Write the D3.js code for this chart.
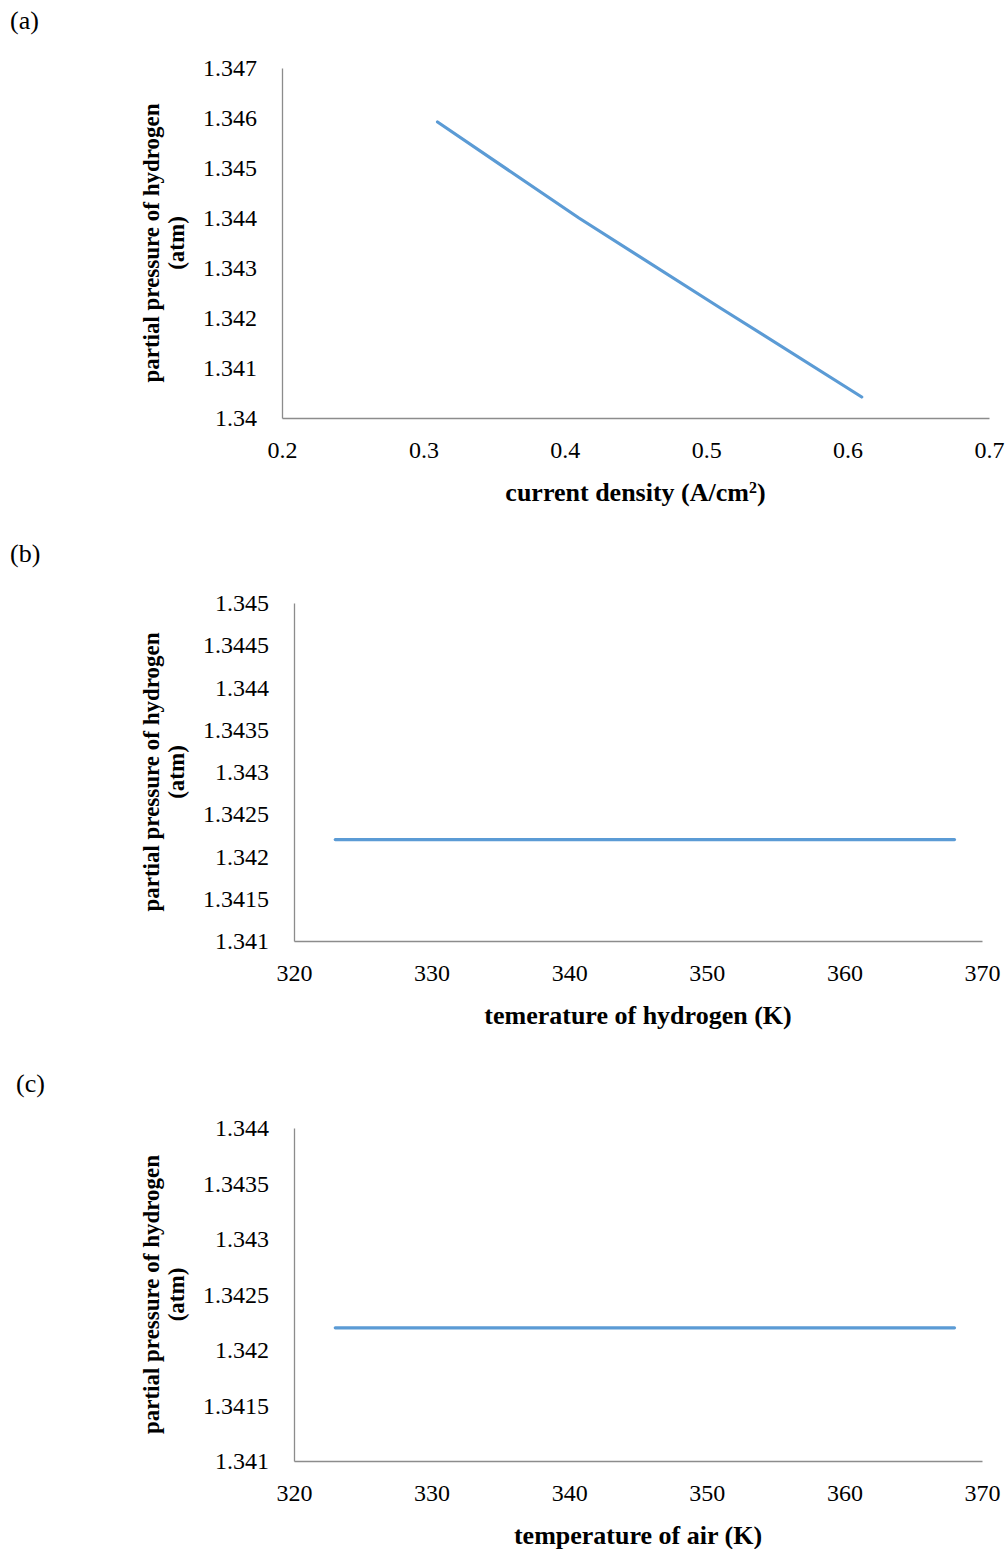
<!DOCTYPE html>
<html>
<head>
<meta charset="utf-8">
<script src="https://cdn.jsdelivr.net/npm/d3@7"></script>
<style>
  body { margin: 0; background: #fff; }
  svg text { font-family: "Liberation Serif", "DejaVu Serif", serif; fill: #000; }
</style>
</head>
<body>
<div id="chart"></div>
<script>
// values
const densityX = [0.31, 0.41, 0.51, 0.61];
const densityP = [1.34592, 1.34400, 1.34220, 1.34042];
const densityTicksX = [0.2, 0.3, 0.4, 0.5, 0.6, 0.7];
const densityTicksY = [1.34, 1.341, 1.342, 1.343, 1.344, 1.345, 1.346, 1.347];

const h2TempX = [323, 368];
const h2TempP = [1.3422, 1.3422];
const tempTicksX = [320, 330, 340, 350, 360, 370];
const h2TicksY = [1.341, 1.3415, 1.342, 1.3425, 1.343, 1.3435, 1.344, 1.3445, 1.345];

const airTempX = [323, 368];
const airTempP = [1.3422, 1.3422];
const airTicksY = [1.341, 1.3415, 1.342, 1.3425, 1.343, 1.3435, 1.344];

const svg = d3.select("#chart").append("svg")
    .attr("width", 1007)
    .attr("height", 1549);

function drawPanel(p) {
    const x = d3.scaleLinear()
        .domain(d3.extent(p.ticksX))
        .range([p.left, p.right]);

    const y = d3.scaleLinear()
        .domain(d3.extent(p.ticksY))
        .range([p.bottom, p.top]);

    // panel letter
    svg.append("text")
        .attr("x", p.tagX)
        .attr("y", p.tagY)
        .attr("font-size", 26)
        .text(p.tag);

    const xAxis = svg.append("g")
        .attr("transform", `translate(0,${p.bottom})`)
        .call(d3.axisBottom(x).tickValues(p.ticksX).tickSize(0).tickPadding(23)
            .tickFormat(d3.format("")));
    xAxis.select(".domain").attr("stroke", "#8c8c8c").attr("stroke-width", 1.3);
    xAxis.selectAll(".tick text").attr("font-size", 24).attr("font-family", "Liberation Serif");

    const yAxis = svg.append("g")
        .attr("transform", `translate(${p.left},0)`)
        .call(d3.axisLeft(y).tickValues(p.ticksY).tickSize(0).tickPadding(25)
            .tickFormat(d3.format("")));
    yAxis.select(".domain").attr("stroke", "#8c8c8c").attr("stroke-width", 1.3);
    yAxis.selectAll(".tick text").attr("font-size", 24).attr("font-family", "Liberation Serif");

    const line = d3.line()
        .x(d => x(d[0]))
        .y(d => y(d[1]));

    svg.append("path")
        .datum(d3.zip(p.xs, p.ys))
        .attr("fill", "none")
        .attr("stroke", "#5b9bd5")
        .attr("stroke-width", 3.2)
        .attr("stroke-linecap", "round")
        .attr("d", line);

    // x axis label
    svg.append("text")
        .attr("text-anchor", "middle")
        .attr("x", (p.left + p.right) / 2)
        .attr("y", p.bottom + 83)
        .attr("font-size", 26)
        .attr("font-weight", "bold")
        .html(p.xLabel);

    // y axis label, two lines
    const midY = (p.top + p.bottom) / 2;
    const yl = svg.append("text")
        .attr("text-anchor", "middle")
        .attr("transform", `translate(159,${midY}) rotate(-90)`)
        .attr("font-size", 23)
        .attr("font-weight", "bold");
    yl.append("tspan").attr("x", 0).attr("dy", 0).text("partial pressure of hydrogen");
    yl.append("tspan").attr("x", 0).attr("dy", 25).text("(atm)");
}

drawPanel({
    tag: "(a)", tagX: 10, tagY: 29,
    left: 282, right: 989, top: 68, bottom: 418,
    ticksX: densityTicksX, ticksY: densityTicksY,
    xs: densityX, ys: densityP,
    xLabel: 'current density (A/cm<tspan baseline-shift="super" font-size="16">2</tspan>)'
});

drawPanel({
    tag: "(b)", tagX: 10, tagY: 562,
    left: 294, right: 982, top: 603, bottom: 941,
    ticksX: tempTicksX, ticksY: h2TicksY,
    xs: h2TempX, ys: h2TempP,
    xLabel: "temerature of hydrogen (K)"
});

drawPanel({
    tag: "(c)", tagX: 16, tagY: 1092,
    left: 294, right: 982, top: 1128, bottom: 1461,
    ticksX: tempTicksX, ticksY: airTicksY,
    xs: airTempX, ys: airTempP,
    xLabel: "temperature of air (K)"
});
</script>
</body>
</html>
